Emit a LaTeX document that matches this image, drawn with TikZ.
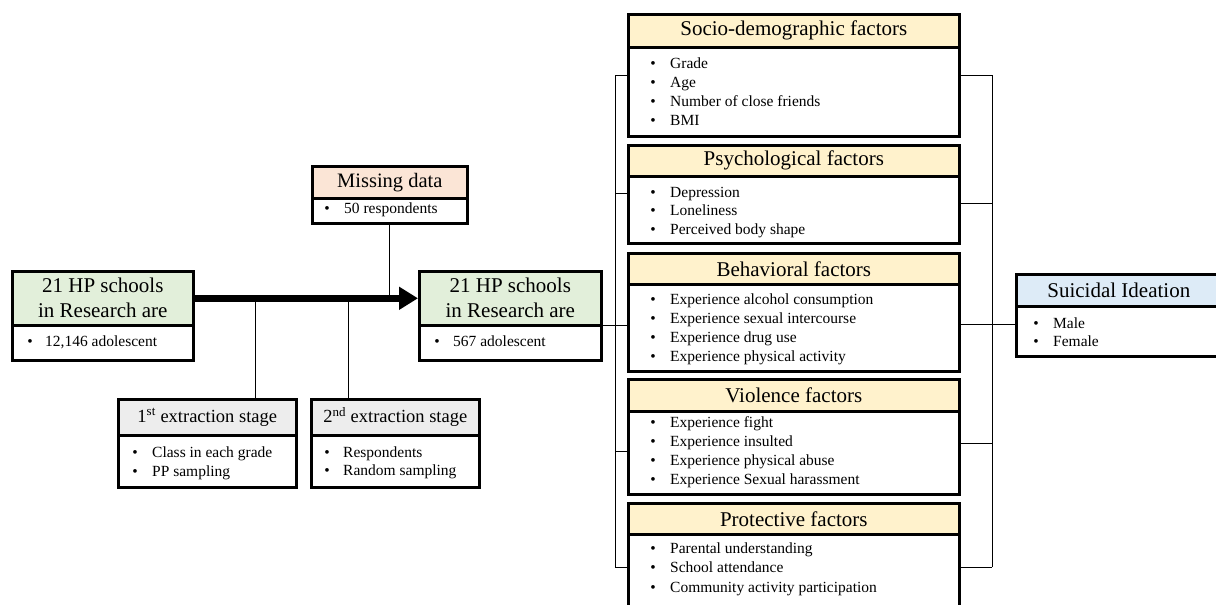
\documentclass[tikz,border=0pt]{standalone}
\usepackage{fontspec}
\setmainfont{Liberation Serif}
\usetikzlibrary{arrows.meta}
\definecolor{hgreen}{HTML}{E2EFDA}
\definecolor{hyellow}{HTML}{FFF2CC}
\definecolor{horange}{HTML}{FBE5D6}
\definecolor{hgray}{HTML}{EDEDED}
\definecolor{hblue}{HTML}{DDEBF7}
\tikzset{
  boxpart/.style={draw, line width=2.6pt, inner sep=0pt, anchor=north west, align=center},
  conn/.style={line width=1pt},
  itemtext/.style={anchor=base west, inner sep=0pt, font=\fontsize{15.5}{18}\selectfont},
  bigfont/.style={font=\fontsize{21}{25}\selectfont},
  missfont/.style={font=\fontsize{20.5}{24}\selectfont},
  midfont/.style={font=\fontsize{18.5}{22}\selectfont},
}
% #1 name, #2 x1, #3 x2, #4 ytop, #5 yhead, #6 ybot, #7 header style, #8 header text
\newcommand\twobox[8]{%
  \node[boxpart, fill=white, minimum width={(#3-#2)*1pt}, minimum height={(#6-#5)*1pt}] (#1b) at (#2,#5) {};
  \node[boxpart, #7, minimum width={(#3-#2)*1pt}, minimum height={(#5-#4)*1pt}] (#1h) at (#2,#4) {#8};
}
% #1 name, #2 bullet x, #3 text x, #4 first baseline, #5 spacing, #6 items
\newcommand\blist[6]{%
  \foreach \t [count=\i] in {#6} {
    \node[itemtext, anchor=base] (#1d\i) at ({#2},{#4+(\i-1)*#5}) {•};
    \node[itemtext] (#1t\i) at ({#3},{#4+(\i-1)*#5}) {\t};
  }
}
\begin{document}
\begin{tikzpicture}[x=1pt,y=-1pt]
\useasboundingbox (0,0) rectangle (1216,605);
\clip (0,0) rectangle (1216,605);

% left and middle boxes
\twobox{left}{11}{192}{270}{324}{359}{fill=hgreen, bigfont}{21 HP schools\\in Research are}
\blist{left}{30}{45}{346}{19}{{12,146 adolescent}}
\twobox{mid}{418}{600}{270}{324}{359}{fill=hgreen, bigfont}{21 HP schools\\in Research are}
\blist{mid}{437}{453}{346}{19}{{567 adolescent}}

% missing data
\twobox{miss}{311}{466}{165}{197}{222}{fill=horange, missfont}{Missing data}
\blist{miss}{327}{344}{213}{19}{{50 respondents}}

% extraction stages
\twobox{sa}{117}{295}{398}{434}{486}{fill=hgray, midfont}{1\textsuperscript{st} extraction stage}
\blist{sa}{135}{152}{457}{19}{{Class in each grade},{PP sampling}}
\twobox{sb}{310}{478}{398}{434}{486}{fill=hgray, midfont}{2\textsuperscript{nd} extraction stage}
\blist{sb}{327}{343}{457}{18.5}{{Respondents},{Random sampling}}

% factor boxes
\twobox{soc}{627}{958}{13}{46}{135}{fill=hyellow, bigfont}{Socio-demographic factors}
\blist{soc}{653}{670}{68}{19.3}{Grade,Age,{Number of close friends},BMI}
\twobox{psy}{627}{958}{144}{175}{242}{fill=hyellow, bigfont}{Psychological factors}
\blist{psy}{653}{670}{197}{18.7}{Depression,Loneliness,{Perceived body shape}}
\twobox{beh}{627}{958}{252}{283}{370}{fill=hyellow, bigfont}{Behavioral factors}
\blist{beh}{653}{670}{304}{19.3}{{Experience alcohol consumption},{Experience sexual intercourse},{Experience drug use},{Experience physical activity}}
\twobox{vio}{627}{958}{378}{410}{493}{fill=hyellow, bigfont}{Violence factors}
\blist{vio}{653}{670}{427}{19}{{Experience fight},{Experience insulted},{Experience physical abuse},{Experience Sexual harassment}}
\twobox{pro}{627}{958}{502}{533}{614}{fill=hyellow, bigfont}{Protective factors}
\blist{pro}{653}{670}{553}{19.5}{{Parental understanding},{School attendance},{Community activity participation}}

% outcome
\twobox{sui}{1015}{1220}{273}{305}{355}{fill=hblue, bigfont}{Suicidal Ideation}
\blist{sui}{1036}{1053}{328}{18}{Male,Female}

% main arrow
\draw[line width=7pt, -{Triangle[length=19pt,width=22pt]}] (lefth.east) -- (midh.west);

% junctions to extraction stages and missing data
\coordinate (ja) at (255,297);
\coordinate (jb) at (348,297);
\draw[conn] (ja) -- (ja |- sah.north);
\draw[conn] (jb) -- (jb |- sbh.north);
\draw[conn] (missb.south) -- (missb.south |- lefth.east);

% left bracket
\coordinate (L1) at (615,75);
\coordinate (L2) at (615,193);
\coordinate (L3) at (615,325);
\coordinate (L4) at (615,451);
\coordinate (L5) at (615,567);
\draw[conn] (L1) -- (L5);
\draw[conn] (L1) -- (L1 -| socb.west);
\draw[conn] (L2) -- (L2 -| psyb.west);
\draw[conn] (L3 -| midb.east) -- (L3 -| behb.west);
\draw[conn] (L4) -- (L4 -| viob.west);
\draw[conn] (L5) -- (L5 -| prob.west);

% right bracket
\coordinate (R1) at (992,75);
\coordinate (R2) at (992,203);
\coordinate (R3) at (992,324);
\coordinate (R4) at (992,443);
\coordinate (R5) at (992,567);
\draw[conn] (R1) -- (R5);
\draw[conn] (R1) -- (R1 -| socb.east);
\draw[conn] (R2) -- (R2 -| psyb.east);
\draw[conn] (R3 -| behb.east) -- (R3 -| suib.west);
\draw[conn] (R4) -- (R4 -| viob.east);
\draw[conn] (R5) -- (R5 -| prob.east);
\end{tikzpicture}
\end{document}
